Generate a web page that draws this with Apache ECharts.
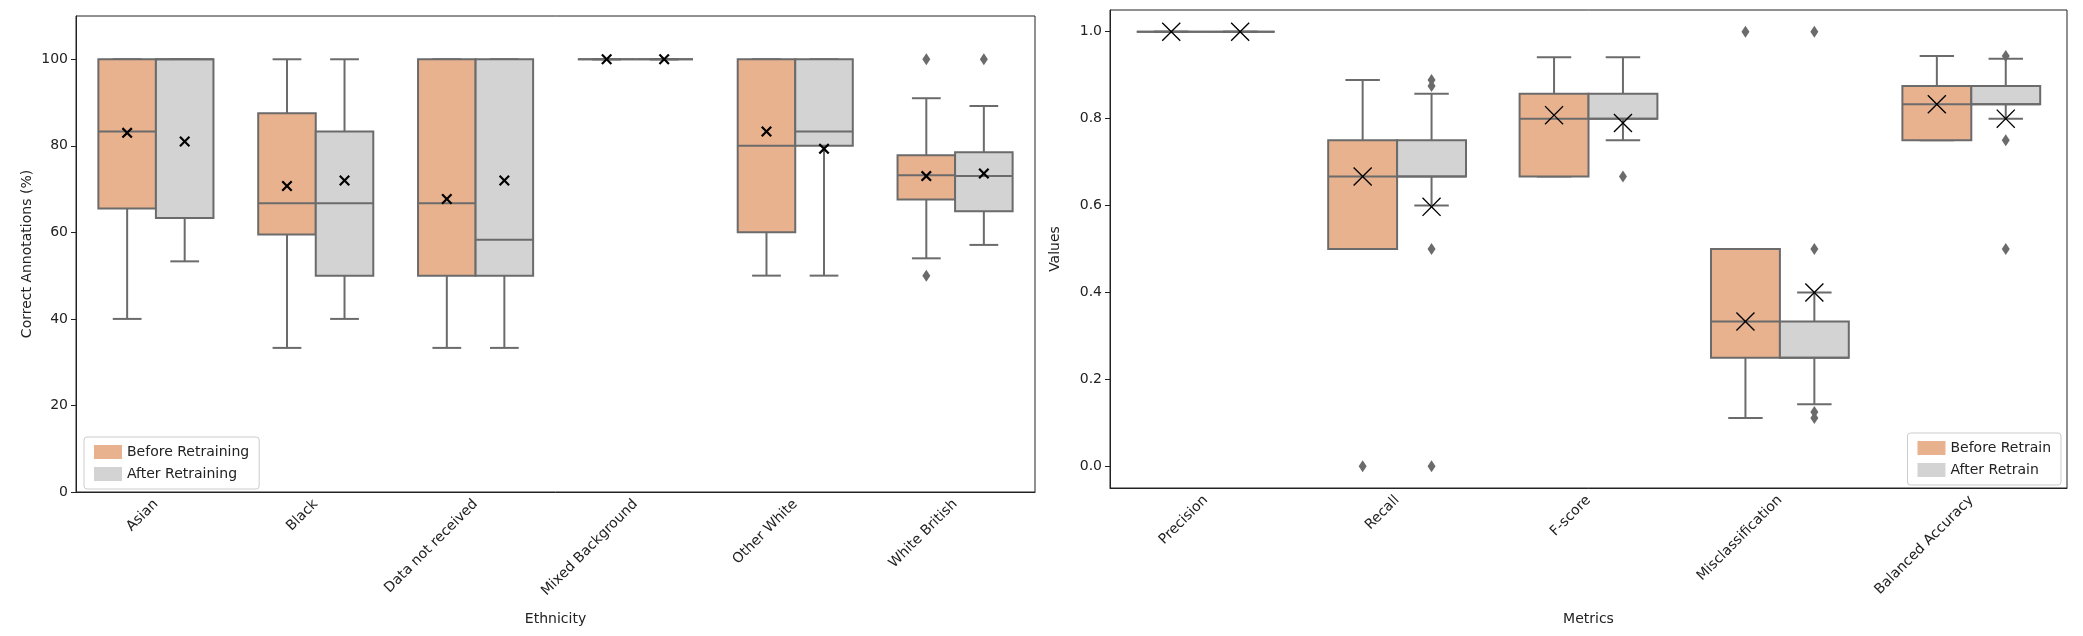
<!DOCTYPE html>
<html>
<head>
<meta charset="utf-8">
<script src="https://cdn.jsdelivr.net/npm/echarts@6/dist/echarts.min.js"></script>
<style>html,body{margin:0;padding:0;background:#fff}#chart{width:2083px;height:636px}</style>
</head>
<body>
<div id="chart"></div>
<script>
// left panel: ethnicity
var ethnicities = ["Asian", "Black", "Data not received", "Mixed Background", "Other White", "White British"];
// [min, q1, median, q3, max]
var ethBefore = [[40, 65.5, 83.3, 100, 100], [33.3, 59.5, 66.7, 87.5, 100], [33.3, 50, 66.7, 100, 100], [100, 100, 100, 100, 100], [50, 60, 80, 100, 100], [54, 67.6, 73.2, 77.8, 91]];
var ethAfter = [[53.3, 63.3, 100, 100, 100], [40, 50, 66.7, 83.3, 100], [33.3, 50, 58.3, 100, 100], [100, 100, 100, 100, 100], [50, 80, 83.3, 100, 100], [57.1, 64.9, 73, 78.5, 89.2]];
var ethMeanBefore = [83, 70.7, 67.7, 100, 83.3, 73];
var ethMeanAfter = [81, 72, 72, 100, 79.3, 73.6];
var ethOutBefore = [[5, 100], [5, 50]];
var ethOutAfter = [[5, 100]];

// right panel: metrics
var metrics = ["Precision", "Recall", "F-score", "Misclassification", "Balanced Accuracy"];
var metBefore = [[1, 1, 1, 1, 1], [0.5, 0.5, 0.667, 0.75, 0.889], [0.667, 0.667, 0.8, 0.857, 0.941], [0.111, 0.25, 0.333, 0.5, 0.5], [0.75, 0.75, 0.833, 0.875, 0.944]];
var metAfter = [[1, 1, 1, 1, 1], [0.6, 0.667, 0.667, 0.75, 0.857], [0.75, 0.8, 0.8, 0.857, 0.941], [0.143, 0.25, 0.25, 0.333, 0.4], [0.8, 0.833, 0.833, 0.875, 0.938]];
var metMeanBefore = [1, 0.667, 0.808, 0.333, 0.833];
var metMeanAfter = [1, 0.597, 0.79, 0.4, 0.8];
var metOutBefore = [[1, 0], [3, 1]];
var metOutAfter = [[1, 0], [1, 0.5], [1, 0.875], [1, 0.889], [2, 0.667], [3, 1], [3, 0.5], [3, 0.125], [3, 0.111], [4, 0.75], [4, 0.5], [4, 0.944]];

var ORANGE = "#e9b28e", GREY = "#d3d3d3", EDGE = "#6b6b6b";
var HALF = 0.18;
var xThick = "path://M0,1.4L1.4,0L5,3.6L8.6,0L10,1.4L6.4,5L10,8.6L8.6,10L5,6.4L1.4,10L0,8.6L3.6,5Z";
var xThin = "path://M0,0.5L0.5,0L5,4.5L9.5,0L10,0.5L5.5,5L10,9.5L9.5,10L5,5.5L0.5,10L0,9.5L4.5,5Z";

function boxSeries(name, stats, offset, color, idx) {
    return {
        name: name, type: "custom", xAxisIndex: idx * 2 + 1, yAxisIndex: idx,
        itemStyle: { color: color, borderColor: EDGE },
        data: stats.map(function (s, i) { return [i].concat(s); }),
        renderItem: function (params, api) {
            var x = api.value(0) + offset;
            var lo = api.coord([x - HALF, api.value(2)]), hi = api.coord([x + HALF, api.value(4)]);
            var cL = api.coord([x - HALF / 2, 0])[0], cR = api.coord([x + HALF / 2, 0])[0];
            var xc = api.coord([x, 0])[0];
            var ymin = api.coord([x, api.value(1)])[1], ymax = api.coord([x, api.value(5)])[1];
            var ymed = api.coord([x, api.value(3)])[1];
            var ln = { stroke: EDGE, lineWidth: 2 };
            return { type: "group", children: [
                { type: "line", shape: { x1: xc, y1: lo[1], x2: xc, y2: ymin }, style: ln },
                { type: "line", shape: { x1: xc, y1: hi[1], x2: xc, y2: ymax }, style: ln },
                { type: "line", shape: { x1: cL, y1: ymin, x2: cR, y2: ymin }, style: ln },
                { type: "line", shape: { x1: cL, y1: ymax, x2: cR, y2: ymax }, style: ln },
                { type: "rect", shape: { x: lo[0], y: hi[1], width: hi[0] - lo[0], height: lo[1] - hi[1] },
                  style: { fill: color, stroke: EDGE, lineWidth: 2 } },
                { type: "line", shape: { x1: lo[0], y1: ymed, x2: hi[0], y2: ymed }, style: ln }
            ] };
        }
    };
}
function pointSeries(vals, offset, idx, symbol, size, color) {
    return {
        type: "scatter", xAxisIndex: idx * 2 + 1, yAxisIndex: idx, symbol: symbol, symbolSize: size,
        itemStyle: { color: color, opacity: 1 }, z: 5,
        data: vals.map(function (v) { return [v[0] + offset, v[1]]; })
    };
}
function means(arr) { return arr.map(function (v, i) { return [i, v]; }); }

var font = "DejaVu Sans";
function catAxis(idx, cats) {
    return { type: "category", gridIndex: idx, data: cats, boundaryGap: true,
        name: idx === 0 ? "Ethnicity" : "Metrics", nameLocation: "middle", nameGap: idx === 0 ? 120 : 124,
        nameTextStyle: { fontFamily: font, fontSize: 14, color: "#222" },
        axisLine: { onZero: false, lineStyle: { color: "#222" } },
        axisTick: { alignWithLabel: true, lineStyle: { color: "#222" } },
        axisLabel: { rotate: 45, fontFamily: font, fontSize: 14, color: "#222", margin: 10 } };
}
function valAxis(idx, n) {
    return { type: "value", gridIndex: idx, min: -0.5, max: n - 0.5, show: false };
}

var option = {
    backgroundColor: "#fff",
    animation: false,
    grid: [
        { left: 76, right: 1048, top: 16, bottom: 144, show: true, borderColor: "#222", borderWidth: 1 },
        { left: 1110, right: 16, top: 10, bottom: 148, show: true, borderColor: "#222", borderWidth: 1 }
    ],
    legend: [
        { data: ["Before Retraining", "After Retraining"], left: 84, top: 437, orient: "vertical",
          itemWidth: 28, itemHeight: 14, itemGap: 8, padding: [8, 10], borderColor: "#ccc", borderWidth: 1,
          borderRadius: 3, icon: "rect", textStyle: { fontFamily: font, fontSize: 14, color: "#222" } },
        { data: ["Before Retrain", "After Retrain"], right: 22, top: 433, orient: "vertical",
          itemWidth: 28, itemHeight: 14, itemGap: 8, padding: [8, 10], borderColor: "#ccc", borderWidth: 1,
          borderRadius: 3, icon: "rect", textStyle: { fontFamily: font, fontSize: 14, color: "#222" } }
    ],
    xAxis: [catAxis(0, ethnicities), valAxis(0, ethnicities.length), catAxis(1, metrics), valAxis(1, metrics.length)],
    yAxis: [
        { type: "value", gridIndex: 0, min: 0, max: 110, interval: 20, splitLine: { show: false },
          name: "Correct Annotations (%)", nameLocation: "middle", nameGap: 42,
          nameTextStyle: { fontFamily: font, fontSize: 14, color: "#222" },
          axisLine: { show: true, onZero: false, lineStyle: { color: "#222" } }, axisTick: { show: true },
          axisLabel: { showMaxLabel: false, fontFamily: font, fontSize: 14, color: "#222" } },
        { type: "value", gridIndex: 1, min: -0.05, max: 1.05, splitLine: { show: false },
          name: "Values", nameLocation: "middle", nameGap: 48,
          nameTextStyle: { fontFamily: font, fontSize: 14, color: "#222" },
          axisLine: { show: true, onZero: false, lineStyle: { color: "#222" } },
          axisTick: { show: true, customValues: [0, 0.2, 0.4, 0.6, 0.8, 1.0] },
          axisLabel: { customValues: [0, 0.2, 0.4, 0.6, 0.8, 1.0], fontFamily: font, fontSize: 14, color: "#222",
            formatter: function (v) { return v.toFixed(1); } } }
    ],
    series: [
        boxSeries("Before Retraining", ethBefore, -HALF, ORANGE, 0),
        boxSeries("After Retraining", ethAfter, HALF, GREY, 0),
        pointSeries(ethOutBefore, -HALF, 0, "diamond", [8, 12], EDGE),
        pointSeries(ethOutAfter, HALF, 0, "diamond", [8, 12], EDGE),
        pointSeries(means(ethMeanBefore), -HALF, 0, xThick, 11, "#000"),
        pointSeries(means(ethMeanAfter), HALF, 0, xThick, 11, "#000"),
        boxSeries("Before Retrain", metBefore, -HALF, ORANGE, 1),
        boxSeries("After Retrain", metAfter, HALF, GREY, 1),
        pointSeries(metOutBefore, -HALF, 1, "diamond", [8, 12], EDGE),
        pointSeries(metOutAfter, HALF, 1, "diamond", [8, 12], EDGE),
        pointSeries(means(metMeanBefore), -HALF, 1, xThin, 19, "#000"),
        pointSeries(means(metMeanAfter), HALF, 1, xThin, 19, "#000")
    ]
};
echarts.init(document.getElementById("chart")).setOption(option);
</script>
</body>
</html>
